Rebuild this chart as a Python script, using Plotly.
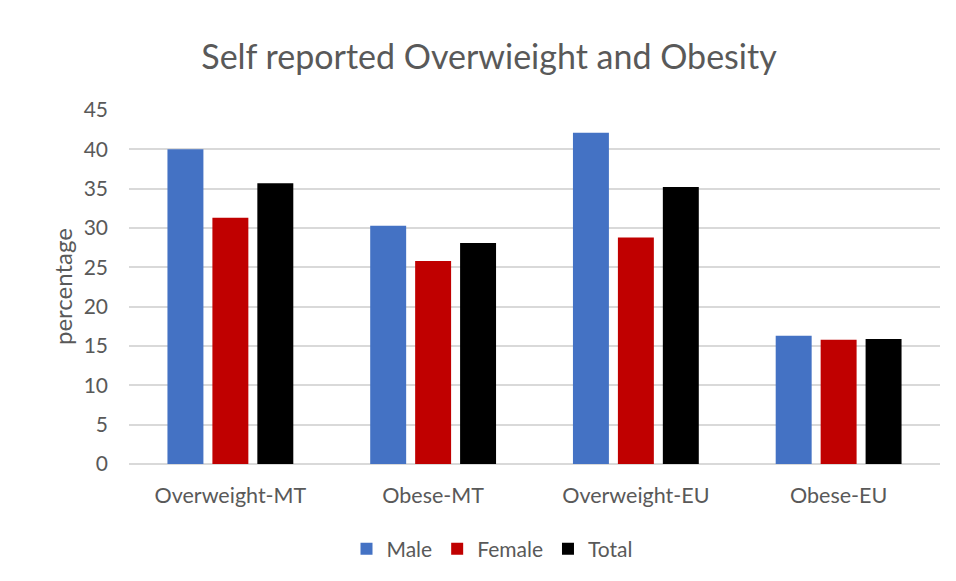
import plotly.graph_objects as go

# Survey results: self-reported overweight and obesity rates (%)
categories = ["Overweight-MT", "Obese-MT", "Overweight-EU", "Obese-EU"]
male = [40.0, 30.3, 42.1, 16.3]
female = [31.3, 25.8, 28.8, 15.8]
total = [35.7, 28.1, 35.2, 15.9]
y_ticks = [0, 5, 10, 15, 20, 25, 30, 35, 40, 45]

series = [
    ("Male", male, "#4472C4"),
    ("Female", female, "#C00000"),
    ("Total", total, "#000000"),
]

FONT = "Lato"
TEXT = "#595959"
GRID = "#d9d9d9"

fig = go.Figure()
for name, vals, color in series:
    fig.add_trace(go.Bar(
        name=name, x=categories, y=vals,
        marker=dict(color=color, line=dict(width=0)),
    ))

W, H = 956, 581
L, R, T, B = 129, 16, 110, 117
PW, PH = W - L - R, H - T - B

fig.update_layout(
    width=W, height=H,
    margin=dict(l=L, r=R, t=T, b=B),
    paper_bgcolor="white", plot_bgcolor="white",
    barmode="group", bargap=0.335, bargroupgap=0.2,
    font=dict(family=FONT, color=TEXT),
    title=dict(
        text="Self reported Overwieight and Obesity",
        x=489 / W, xanchor="center", xref="container",
        y=1 - 57 / H, yanchor="middle", yref="container",
        font=dict(size=34, color=TEXT, family=FONT),
    ),
    legend=dict(
        orientation="h", x=(492 - L) / PW, xanchor="center",
        y=-(549 - (H - B)) / PH, yanchor="middle",
        font=dict(size=21, color=TEXT, family=FONT),
        itemwidth=30, traceorder="normal",
    ),
    showlegend=True,
)

fig.update_yaxes(
    range=[0, 45], tickvals=y_ticks, showgrid=True, gridcolor=GRID, gridwidth=1.5,
    zeroline=True, zerolinecolor=GRID, zerolinewidth=1.5,
    showline=False, ticks="", ticklabelstandoff=20,
    tickfont=dict(size=21, color=TEXT, family=FONT), fixedrange=True,
)
fig.update_xaxes(
    showgrid=False, showline=False, ticks="", ticklabelstandoff=16,
    tickfont=dict(size=21.5, color=TEXT, family=FONT),
)

# y-axis title
fig.add_annotation(
    text="percentage", textangle=-90, showarrow=False,
    xref="paper", yref="paper", x=(62 - L) / PW, y=0.5,
    xanchor="center", yanchor="middle",
    font=dict(size=24, color=TEXT, family=FONT),
)

fig.write_html("out.html")
